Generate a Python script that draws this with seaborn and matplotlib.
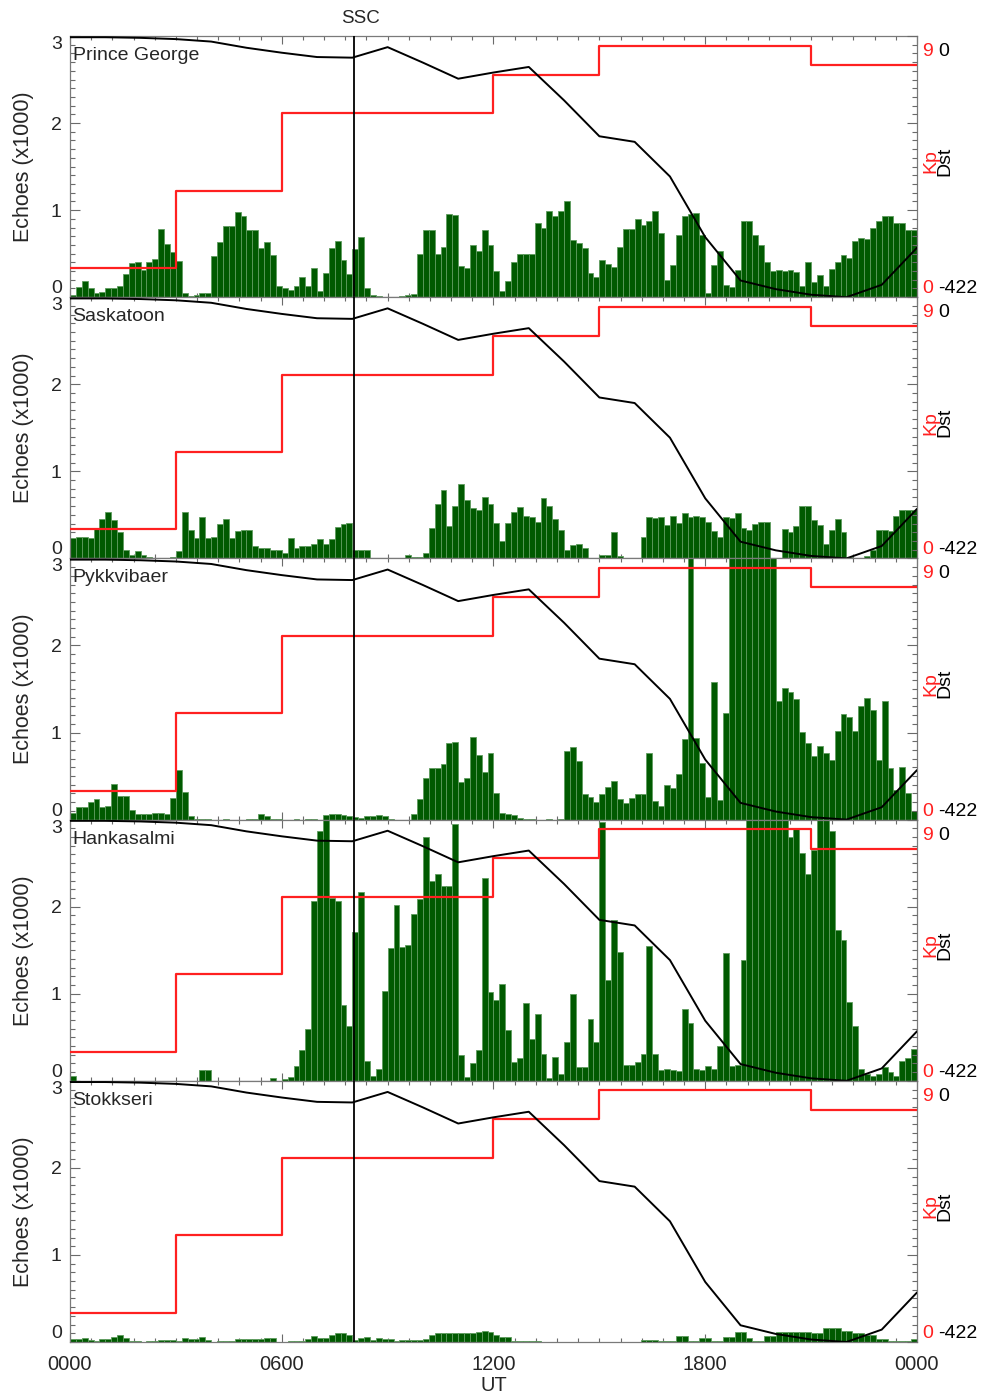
import matplotlib
matplotlib.use("Agg")
import matplotlib.pyplot as plt
from matplotlib.ticker import FixedLocator, FixedFormatter, MultipleLocator
from matplotlib.transforms import blended_transform_factory, ScaledTranslation
import numpy as np
import pandas as pd
import seaborn as sns

# ---------------------------------------------------------------- data
stations = ["Prince George", "Saskatoon", "Pykkvibaer", "Hankasalmi", "Stokkseri"]

# radar echo counts (x1000) in 10-minute bins, 0000-2400 UT
echoes_prince_george = [
    0.03, 0.12, 0.19, 0.10, 0.05, 0.06, 0.10, 0.10, 0.13, 0.27,
    0.39, 0.40, 0.31, 0.40, 0.44, 0.78, 0.61, 0.52, 0.42, 0.05,
    0.01, 0.02, 0.05, 0.05, 0.47, 0.63, 0.82, 0.82, 0.98, 0.93,
    0.77, 0.77, 0.57, 0.63, 0.48, 0.13, 0.10, 0.08, 0.13, 0.23,
    0.13, 0.33, 0.07, 0.28, 0.57, 0.64, 0.43, 0.27, 0.55, 0.69,
    0.10, 0.02, 0.01, 0.00, 0.00, 0.00, 0.01, 0.02, 0.04, 0.50,
    0.77, 0.77, 0.50, 0.58, 0.95, 0.94, 0.36, 0.34, 0.60, 0.53,
    0.77, 0.60,
    0.30, 0.07, 0.19, 0.41, 0.50, 0.50, 0.50, 0.85, 0.79, 0.99,
    0.93, 0.99, 1.10, 0.66, 0.62, 0.56, 0.28, 0.23, 0.43, 0.38,
    0.35, 0.58, 0.78, 0.78, 0.90, 0.83, 0.88, 0.99, 0.74, 0.20,
    0.37, 0.72, 0.93, 0.95, 0.97, 0.72, 0.05, 0.37, 0.53, 0.14,
    0.12, 0.31, 0.87, 0.87, 0.71, 0.60, 0.41, 0.30, 0.31, 0.30,
    0.31, 0.29, 0.13, 0.41, 0.18, 0.26, 0.13, 0.32, 0.41, 0.49,
    0.45, 0.65, 0.68, 0.67, 0.80, 0.87, 0.93, 0.93, 0.85, 0.85,
    0.77, 0.77,
]
echoes_saskatoon = [
    0.23, 0.25, 0.25, 0.24, 0.35, 0.45, 0.53, 0.44, 0.30, 0.10,
    0.04, 0.09, 0.04, 0.02, 0.01, 0.01, 0.01, 0.02, 0.08, 0.53,
    0.33, 0.23, 0.47, 0.23, 0.25, 0.40, 0.45, 0.24, 0.32, 0.33,
    0.33, 0.14, 0.12, 0.12, 0.10, 0.10, 0.06, 0.23, 0.12, 0.14,
    0.14, 0.17, 0.22, 0.16, 0.22, 0.36, 0.40, 0.41, 0.10, 0.10,
    0.10, 0.01, 0.00, 0.00, 0.00, 0.00, 0.00, 0.04, 0.02, 0.02,
    0.06, 0.35, 0.63, 0.78, 0.37, 0.60, 0.85, 0.67, 0.58, 0.56,
    0.70, 0.63,
    0.41, 0.20, 0.41, 0.53, 0.59, 0.49, 0.47, 0.42, 0.69, 0.60,
    0.45, 0.33, 0.10, 0.15, 0.17, 0.12, 0.00, 0.00, 0.04, 0.04,
    0.30, 0.03, 0.01, 0.01, 0.00, 0.25, 0.47, 0.46, 0.48, 0.38,
    0.49, 0.41, 0.52, 0.47, 0.49, 0.47, 0.42, 0.32, 0.25, 0.47,
    0.46, 0.52, 0.35, 0.33, 0.40, 0.42, 0.42, 0.00, 0.00, 0.34,
    0.30, 0.37, 0.60, 0.60, 0.44, 0.38, 0.17, 0.33, 0.45, 0.30,
    0.02, 0.01, 0.01, 0.03, 0.10, 0.33, 0.33, 0.31, 0.49, 0.56,
    0.56, 0.56,
]
echoes_pykkvibaer = [
    0.08, 0.15, 0.15, 0.20, 0.24, 0.15, 0.16, 0.41, 0.27, 0.27,
    0.11, 0.06, 0.07, 0.06, 0.08, 0.08, 0.07, 0.25, 0.57, 0.32,
    0.04, 0.01, 0.01, 0.01, 0.00, 0.00, 0.01, 0.00, 0.00, 0.00,
    0.01, 0.01, 0.06, 0.04, 0.01, 0.01, 0.00, 0.00, 0.01, 0.00,
    0.01, 0.01, 0.00, 0.05, 0.06, 0.06, 0.05, 0.04, 0.03, 0.02,
    0.04, 0.04, 0.05, 0.04, 0.01, 0.00, 0.00, 0.00, 0.06, 0.24,
    0.48, 0.59, 0.59, 0.64, 0.88, 0.89, 0.43, 0.48, 0.95, 0.74,
    0.55, 0.77,
    0.30, 0.08, 0.06, 0.05, 0.02, 0.01, 0.01, 0.00, 0.00, 0.01,
    0.00, 0.01, 0.79, 0.83, 0.67, 0.29, 0.26, 0.20, 0.29, 0.38,
    0.44, 0.24, 0.19, 0.25, 0.29, 0.29, 0.76, 0.21, 0.16, 0.40,
    0.36, 0.52, 0.92, 3.40, 0.94, 0.65, 0.26, 1.58, 0.23, 1.23,
    3.40, 3.40, 3.40, 3.40, 3.40, 3.40, 3.40, 3.40, 1.36, 1.51,
    1.46, 1.39, 1.01, 0.88, 0.73, 0.85, 0.76, 0.69, 1.02, 1.21,
    1.18, 1.02, 1.30, 1.40, 1.26, 0.68, 1.36, 0.59, 0.34, 0.60,
    0.30, 0.10,
]
echoes_hankasalmi = [
    0.06, 0.00, 0.00, 0.00, 0.00, 0.00, 0.00, 0.00, 0.00, 0.00,
    0.00, 0.00, 0.00, 0.00, 0.00, 0.00, 0.00, 0.00, 0.00, 0.00,
    0.00, 0.00, 0.12, 0.12, 0.00, 0.00, 0.00, 0.00, 0.00, 0.00,
    0.00, 0.00, 0.00, 0.00, 0.03, 0.00, 0.02, 0.04, 0.17, 0.35,
    0.60, 2.07, 2.87, 3.40, 2.10, 2.07, 0.87, 0.63, 1.71, 2.17,
    0.23, 0.05, 0.14, 1.03, 1.52, 2.02, 1.54, 1.56, 1.92, 2.09,
    2.80, 2.30, 2.37, 2.24, 2.24, 2.95, 0.30, 0.04, 0.21, 0.35,
    2.33, 1.02,
    0.93, 1.11, 0.58, 0.22, 0.26, 0.89, 0.48, 0.77, 0.31, 0.03,
    0.27, 0.08, 0.44, 1.00, 0.16, 0.16, 0.71, 0.44, 2.97, 1.16,
    1.85, 1.48, 0.18, 0.18, 0.22, 0.31, 1.55, 0.31, 0.12, 0.14,
    0.12, 0.11, 0.82, 0.66, 0.13, 0.12, 0.17, 0.14, 0.40, 1.47,
    0.17, 0.18, 1.39, 3.40, 3.40, 3.40, 3.40, 3.40, 3.40, 3.40,
    2.80, 2.90, 2.62, 2.37, 2.65, 3.40, 3.40, 2.87, 1.73, 1.62,
    0.91, 0.63, 0.14, 0.08, 0.05, 0.08, 0.16, 0.10, 0.05, 0.23,
    0.26, 0.36,
]
echoes_stokkseri = [
    0.04, 0.04, 0.05, 0.02, 0.01, 0.03, 0.03, 0.06, 0.08, 0.05,
    0.01, 0.01, 0.00, 0.01, 0.01, 0.02, 0.02, 0.02, 0.01, 0.05,
    0.03, 0.03, 0.06, 0.02, 0.00, 0.01, 0.01, 0.01, 0.04, 0.04,
    0.03, 0.03, 0.03, 0.05, 0.05, 0.00, 0.00, 0.01, 0.01, 0.01,
    0.04, 0.07, 0.05, 0.05, 0.08, 0.10, 0.10, 0.08, 0.02, 0.05,
    0.06, 0.02, 0.05, 0.04, 0.04, 0.01, 0.02, 0.02, 0.02, 0.02,
    0.04, 0.08, 0.10, 0.10, 0.10, 0.10, 0.10, 0.10, 0.10, 0.11,
    0.13, 0.11,
    0.08, 0.06, 0.06, 0.01, 0.01, 0.01, 0.01, 0.01, 0.00, 0.00,
    0.00, 0.00, 0.00, 0.00, 0.00, 0.00, 0.00, 0.00, 0.00, 0.00,
    0.00, 0.00, 0.00, 0.00, 0.00, 0.02, 0.02, 0.02, 0.01, 0.01,
    0.01, 0.07, 0.07, 0.01, 0.01, 0.05, 0.05, 0.01, 0.01, 0.06,
    0.06, 0.11, 0.11, 0.05, 0.01, 0.01, 0.07, 0.07, 0.12, 0.12,
    0.12, 0.12, 0.12, 0.12, 0.10, 0.10, 0.16, 0.16, 0.16, 0.13,
    0.13, 0.10, 0.10, 0.08, 0.08, 0.04, 0.04, 0.01, 0.01, 0.01,
    0.01, 0.04,
]

# 3-hourly Kp index
kp_start_hours = [0, 3, 6, 9, 12, 15, 18, 21]
kp_values = [1.0, 3.67, 6.33, 6.33, 7.67, 8.67, 8.67, 8.0]

# hourly Dst index (nT)
dst_hours = list(range(25))
dst_values = [-2, -2, -3, -5, -9, -19, -27, -34, -35, -18, -43, -69, -59,
              -50, -104, -162, -171, -227, -325, -395, -409, -418, -422,
              -402, -342]

ssc_hour = 8.05

x_tick_hours = [0, 6, 12, 18, 24]
x_tick_labels = ["0000", "0600", "1200", "1800", "0000"]
echo_ticks = [0, 1, 2, 3]
echo_tick_labels = ["0", "1", "2", "3"]
kp_ticks = [0, 3, 6, 9]
kp_tick_labels = ["0", "", "", "9"]
dst_ticks = [-422, 0]
dst_tick_labels = ["-422", "0"]

# ---------------------------------------------------------------- style
sns.set_theme(style="white")
plt.rcParams["font.family"] = ["Liberation Sans", "DejaVu Sans"]

FIG_W, FIG_H, DPI = 986, 1399, 100
fig = plt.figure(figsize=(FIG_W / DPI, FIG_H / DPI), dpi=DPI)
fig.patch.set_facecolor("white")

GREEN = "#005a00"
BAR_EDGE = "#5e9c5e"
RED = "#ff2020"
FRAME = "#7a7a7a"
TICK_C = "#6a6a6a"
TICK_FS = 14

left = 70 / FIG_W
width = 847 / FIG_W
top_px = 36
panel_px = (1342 - 36) / 5
down_shift = ScaledTranslation(0, -5 / 72, fig.dpi_scale_trans)

echo_series = [echoes_prince_george, echoes_saskatoon, echoes_pykkvibaer,
               echoes_hankasalmi, echoes_stokkseri]
n_bins = len(echoes_prince_george)
bin_centres = (np.arange(n_bins) + 0.5) * 24.0 / n_bins

kp_x = kp_start_hours + [24]
kp_y = kp_values + [kp_values[-1]]

for i, (name, echoes) in enumerate(zip(stations, echo_series)):
    bottom_px = top_px + (i + 1) * panel_px
    ax = fig.add_axes([left, 1 - bottom_px / FIG_H, width, panel_px / FIG_H])
    ax.set_facecolor("white")

    frame = pd.DataFrame({"hour": bin_centres, "echoes": echoes})
    sns.histplot(data=frame, x="hour", weights="echoes", bins=n_bins,
                 binrange=(0, 24), ax=ax, color=GREEN, edgecolor=BAR_EDGE,
                 linewidth=0.6, alpha=1.0)

    # Kp on a twin axis (0-9)
    axk = ax.twinx()
    sns.lineplot(x=kp_x, y=kp_y, ax=axk, color=RED, linewidth=1.6,
                 drawstyle="steps-post", estimator=None, legend=False)
    axk.set_ylim(0, 9)

    # Dst on a second twin axis (-422 .. 0)
    axd = ax.twinx()
    sns.lineplot(x=dst_hours, y=dst_values, ax=axd, color="black",
                 linewidth=1.4, estimator=None, legend=False)
    axd.set_ylim(-422, 0)
    axd.axvline(ssc_hour, color="black", linewidth=1.3)

    for a in (ax, axk, axd):
        a.set_xlim(0, 24)
    ax.set_ylim(0, 3)

    # frame
    for s in ax.spines.values():
        s.set_visible(True)
        s.set_color(FRAME)
        s.set_linewidth(0.9)
    for a in (axk, axd):
        for s in a.spines.values():
            s.set_visible(False)

    # x ticks on top and bottom, pointing inward
    ax.xaxis.set_major_locator(FixedLocator(x_tick_hours))
    ax.xaxis.set_minor_locator(MultipleLocator(0.6))
    ax.tick_params(axis="x", which="both", direction="in", top=True,
                   bottom=True, color=TICK_C, width=0.8)
    ax.tick_params(axis="x", which="major", length=6)
    ax.tick_params(axis="x", which="minor", length=3)
    if i == len(stations) - 1:
        ax.xaxis.set_major_formatter(FixedFormatter(x_tick_labels))
        ax.tick_params(axis="x", labelsize=TICK_FS + 0.5, pad=9)
        ax.set_xlabel("UT", fontsize=TICK_FS + 0.5, labelpad=2)
    else:
        ax.tick_params(axis="x", labelbottom=False)
        ax.set_xlabel("")

    # left echo axis
    ax.yaxis.set_major_locator(FixedLocator(echo_ticks))
    ax.yaxis.set_major_formatter(FixedFormatter(echo_tick_labels))
    ax.yaxis.set_minor_locator(MultipleLocator(0.1))
    ax.tick_params(axis="y", which="both", direction="in", left=True,
                   right=False, color=TICK_C, width=0.8,
                   labelsize=TICK_FS, pad=6)
    ax.tick_params(axis="y", which="major", length=7)
    ax.tick_params(axis="y", which="minor", length=3.5)
    ax.set_ylabel("Echoes (x1000)", fontsize=15.5)
    ax.yaxis.set_label_coords(-0.042, 0.5)
    ticks_left = ax.yaxis.get_major_ticks()
    ticks_left[0].label1.set_va("bottom")
    ticks_left[-1].label1.set_va("top")

    # right Kp axis
    axk.yaxis.set_major_locator(FixedLocator(kp_ticks))
    axk.yaxis.set_major_formatter(FixedFormatter(kp_tick_labels))
    axk.yaxis.set_minor_locator(MultipleLocator(0.3))
    axk.tick_params(axis="y", which="both", direction="in", right=True,
                    left=False, color=TICK_C, width=0.8, labelcolor=RED,
                    labelsize=TICK_FS, pad=4)
    axk.tick_params(axis="y", which="major", length=7)
    axk.tick_params(axis="y", which="minor", length=3.5)
    axk.set_ylabel("")
    ticks_kp = axk.yaxis.get_major_ticks()
    ticks_kp[0].label2.set_va("bottom")
    ticks_kp[-1].label2.set_va("top")
    ticks_kp[-1].label2.set_transform(ticks_kp[-1].label2.get_transform() + down_shift)

    # right Dst labels
    axd.yaxis.set_major_locator(FixedLocator(dst_ticks))
    axd.yaxis.set_major_formatter(FixedFormatter(dst_tick_labels))
    axd.yaxis.set_minor_locator(FixedLocator([]))
    axd.tick_params(axis="y", which="both", right=True, left=False,
                    length=0, labelcolor="black", labelsize=TICK_FS, pad=15.5)
    axd.set_ylabel("")
    ticks_dst = axd.yaxis.get_major_ticks()
    ticks_dst[0].label2.set_va("bottom")
    ticks_dst[-1].label2.set_va("top")
    ticks_dst[-1].label2.set_transform(ticks_dst[-1].label2.get_transform() + down_shift)

    ax.text(1.0165, 0.52, "Kp", color=RED, rotation=90, fontsize=TICK_FS,
            ha="center", va="center", transform=ax.transAxes)
    ax.text(1.0335, 0.52, "Dst", color="black", rotation=90,
            fontsize=TICK_FS, ha="center", va="center",
            transform=ax.transAxes)

    ax.text(0.003, 0.925, name, fontsize=TICK_FS, ha="left", va="center",
            transform=ax.transAxes)

    if i == 0:
        trans = blended_transform_factory(ax.transData, ax.transAxes)
        ax.text(ssc_hour + 0.17, 1.068, "SSC", fontsize=13.5, ha="center",
                va="center", transform=trans)

fig.savefig("out.png", dpi=DPI, facecolor="white")
